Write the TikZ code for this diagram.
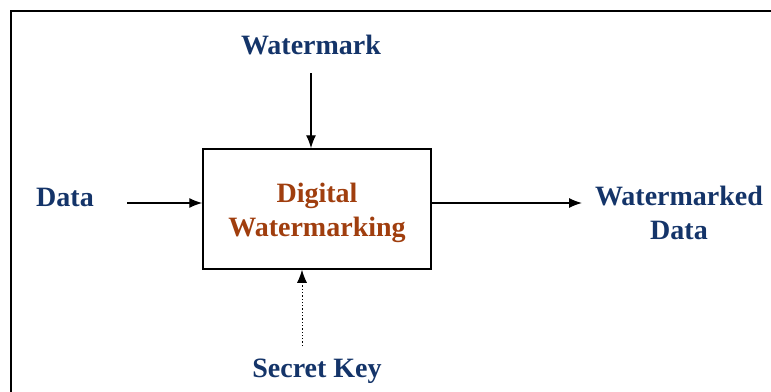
\documentclass[tikz,border=0pt]{standalone}
\usepackage{fontspec}
\setmainfont{Liberation Serif}
\usetikzlibrary{arrows.meta}
\definecolor{txtblue}{RGB}{20,52,105}
\definecolor{txtbrown}{RGB}{160,62,14}
\tikzset{
  lbl/.style={font=\fontsize{28}{34}\selectfont\bfseries, text=txtblue, inner sep=0pt, align=center},
  procbox/.style={draw, line width=1.5pt, minimum width=228pt, minimum height=120pt, inner sep=0pt,
    font=\fontsize{28}{34}\selectfont\bfseries, text=txtbrown, align=center,
    text height=54pt, text depth=0pt},
  arr/.style={line width=1.3pt, -{Latex[length=13pt,width=10pt]}},
  frameline/.style={line width=2pt}
}
\begin{document}
\begin{tikzpicture}[x=1pt,y=-1pt]
\useasboundingbox (0,0) rectangle (771,391);
\fill[white] (0,0) rectangle (771,391);
\draw[frameline] (11,392) coordinate (fa) -- (11,11) coordinate (fb) -- (772,11) coordinate (fc);
\node[procbox] (box) at (317,209) {Digital\\Watermarking};
\node[lbl, anchor=base] (wm) at (311,54) {Watermark};
\node[lbl, anchor=base] (data) at (65,206) {Data};
\node[lbl, anchor=base] (wmd) at (679,239) {Watermarked\\Data};
\node[lbl, anchor=base] (sk) at (317,377) {Secret Key};
\coordinate (wmtail) at (311,73);
\coordinate (dtail) at (127,203);
\coordinate (outtip) at (582,203);
\coordinate (sktail) at (302,346);
\draw[arr] (wmtail) -- (wmtail |- box.north);
\draw[arr] (dtail) -- (dtail -| box.west);
\draw[arr] (box.east |- outtip) -- (outtip);
\draw[arr, dotted, line width=1pt] (sktail) -- (sktail |- box.south);
\end{tikzpicture}
\end{document}
